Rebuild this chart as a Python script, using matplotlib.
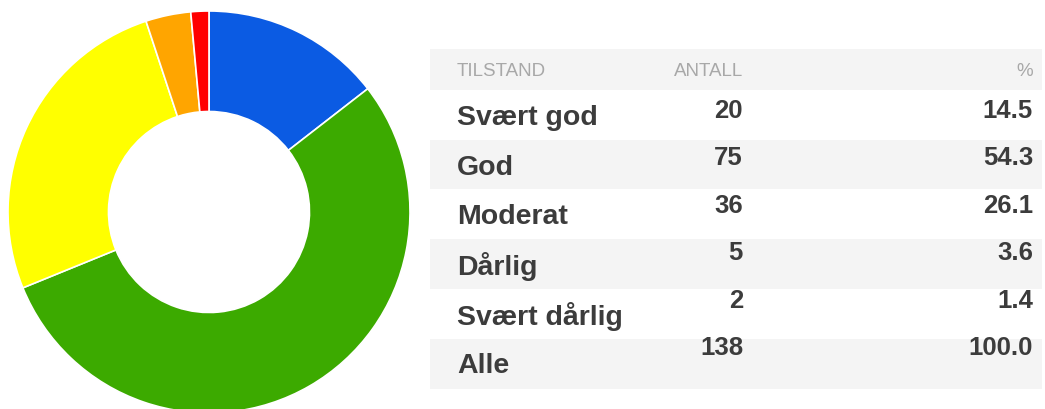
import numpy as np
import matplotlib
matplotlib.use('Agg')
import matplotlib.pyplot as plt
from matplotlib.patches import Rectangle

# data
categories = ['Svært god', 'God', 'Moderat', 'Dårlig', 'Svært dårlig']
counts = [20, 75, 36, 5, 2]
percents = [14.5, 54.3, 26.1, 3.6, 1.4]
total_label = 'Alle'
total_count = 138
total_percent = 100.0
headers = ['TILSTAND', 'ANTALL', '%']

colors = ['#0b5be3', '#3caa00', '#ffff00', '#ffa500', '#ff0000']

W, H = 1045, 410
fig = plt.figure(figsize=(W / 100, H / 100), dpi=100)
fig.patch.set_facecolor('white')

# donut, placed in pixel coords
cx, cy, r = 209, 213, 201
ax = fig.add_axes([(cx - r) / W, (H - cy - r) / H, 2 * r / W, 2 * r / H])
ax.pie(counts, colors=colors, startangle=90, counterclock=False,
       radius=1, wedgeprops=dict(width=0.5, edgecolor='white', linewidth=1.2))
ax.set_xlim(-1, 1)
ax.set_ylim(-1, 1)
ax.set_aspect('equal')
ax.axis('off')

# table drawn on a pixel-coordinate overlay
tx = fig.add_axes([0, 0, 1, 1], zorder=-1)
tx.set_xlim(0, W)
tx.set_ylim(H, 0)
tx.axis('off')

x_left, x_right = 430, 1042
row_edges = [50, 91, 141, 190, 240, 290, 340, 390]
for i in range(len(row_edges) - 1):
    fc = '#f4f4f4' if i % 2 == 0 else 'white'
    tx.add_patch(Rectangle((x_left, row_edges[i]), x_right - x_left,
                           row_edges[i + 1] - row_edges[i], facecolor=fc, edgecolor='none'))

font = 'Liberation Sans'
hdr_col = '#a8a8a8'
txt_col = '#3c3c3c'
col_label_x = 457
col_count_x = 743
col_pct_x = 1033

for x, ha, s in zip([col_label_x, col_count_x, col_pct_x], ['left', 'right', 'right'], headers):
    tx.text(x, 72, s, ha=ha, va='center', fontsize=13.5, color=hdr_col, family=font)

labels = categories + [total_label]
cnts = counts + [total_count]
pcts = percents + [total_percent]
for i in range(len(labels)):
    ly = 118 + 49.6 * i
    ny = 111 + 47.4 * i
    tx.text(col_label_x, ly, labels[i], ha='left', va='center', fontsize=20.5,
            fontweight='bold', color=txt_col, family=font)
    tx.text(col_count_x, ny, f'{cnts[i]}', ha='right', va='center', fontsize=18.5,
            fontweight='bold', color=txt_col, family=font)
    tx.text(col_pct_x, ny, f'{pcts[i]:.1f}', ha='right', va='center', fontsize=18.5,
            fontweight='bold', color=txt_col, family=font)

fig.savefig('out.png', dpi=100)
